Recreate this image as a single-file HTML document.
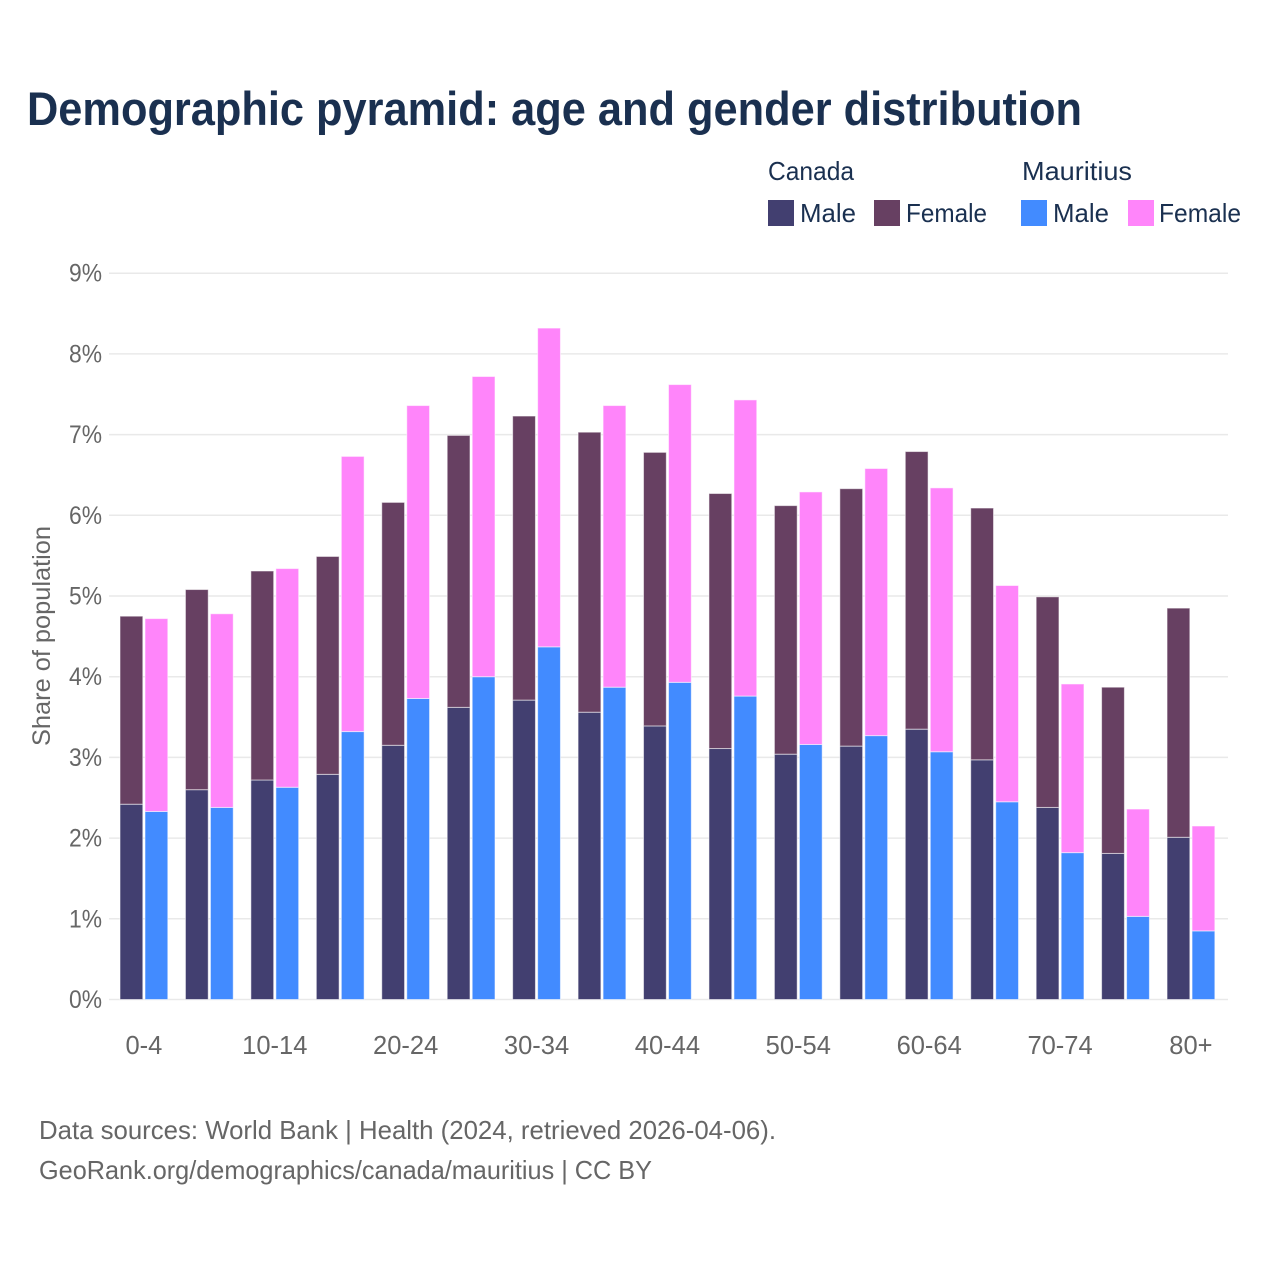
<!DOCTYPE html>
<html lang="en">
<head>
<meta charset="utf-8">
<title>Demographic pyramid: age and gender distribution</title>
<style>
html,body{margin:0;padding:0;background:#fff;}
svg{display:block;font-family:"Liberation Sans",sans-serif;}
</style>
</head>
<body>
<svg id="chart" xmlns="http://www.w3.org/2000/svg" width="1280" height="1280" viewBox="0 0 1280 1280">
  <rect x="0" y="0" width="1280" height="1280" fill="#ffffff"/>
  <text x="27" y="125" font-size="47" font-weight="700" fill="#1a3050" textLength="1055" lengthAdjust="spacingAndGlyphs">Demographic pyramid: age and gender distribution</text>

  <g font-size="26" fill="#1a3050">
    <text x="768" y="180" textLength="86" lengthAdjust="spacingAndGlyphs">Canada</text>
    <text x="1022" y="180" textLength="110" lengthAdjust="spacingAndGlyphs">Mauritius</text>
    <rect x="768" y="200" width="26" height="26" fill="#423f70"/>
    <text x="800" y="222" textLength="56" lengthAdjust="spacingAndGlyphs">Male</text>
    <rect x="874" y="200" width="26" height="26" fill="#674062"/>
    <text x="906" y="222" textLength="81" lengthAdjust="spacingAndGlyphs">Female</text>
    <rect x="1021" y="200" width="26" height="26" fill="#428bff"/>
    <text x="1053" y="222" textLength="56" lengthAdjust="spacingAndGlyphs">Male</text>
    <rect x="1128" y="200" width="26" height="26" fill="#ff85fa"/>
    <text x="1159" y="222" textLength="82" lengthAdjust="spacingAndGlyphs">Female</text>
  </g>

  <g id="grid"></g>
  <g id="bars"></g>
  <g id="y-ticks" font-size="25" fill="#666666" text-anchor="end"></g>
  <g id="x-ticks" font-size="25.5" fill="#666666" text-anchor="middle"></g>

  <text transform="translate(50,636) rotate(-90)" text-anchor="middle" font-size="25" fill="#666666" textLength="220" lengthAdjust="spacingAndGlyphs">Share of population</text>

  <text x="39" y="1139" font-size="26" fill="#666666" textLength="737" lengthAdjust="spacingAndGlyphs">Data sources: World Bank | Health (2024, retrieved 2026-04-06).</text>
  <text x="39" y="1179" font-size="26" fill="#666666" textLength="613" lengthAdjust="spacingAndGlyphs">GeoRank.org/demographics/canada/mauritius | CC BY</text>
</svg>
<script>
const ageGroups = ["0-4","5-9","10-14","15-19","20-24","25-29","30-34","35-39","40-44","45-49","50-54","55-59","60-64","65-69","70-74","75-79","80+"];
const ageLabels = ["0-4","","10-14","","20-24","","30-34","","40-44","","50-54","","60-64","","70-74","","80+"];
const canadaMale = [2.42,2.60,2.72,2.79,3.15,3.62,3.71,3.56,3.39,3.11,3.04,3.14,3.35,2.97,2.38,1.81,2.01];
const canadaFemale = [2.33,2.48,2.59,2.70,3.01,3.37,3.52,3.47,3.39,3.16,3.08,3.19,3.44,3.12,2.61,2.06,2.84];
const mauritiusMale = [2.33,2.38,2.63,3.32,3.73,4.00,4.37,3.87,3.93,3.76,3.16,3.27,3.07,2.45,1.82,1.03,0.85];
const mauritiusFemale = [2.39,2.40,2.71,3.41,3.63,3.72,3.95,3.49,3.69,3.67,3.13,3.31,3.27,2.68,2.09,1.33,1.30];
const yTicks = [0,1,2,3,4,5,6,7,8,9];

const NS = "http://www.w3.org/2000/svg";
const yScale = v => 999.5 - v * 80.7;
const xScale = i => 120 + i * 65.44;
const barW = 22.8;
const seriesGap = 25;

const gridG = document.getElementById("grid");
const yG = document.getElementById("y-ticks");
yTicks.forEach(t => {
  const line = document.createElementNS(NS, "line");
  
  
  line.setAttribute("x1", 109);
  line.setAttribute("x2", 1228);
  line.setAttribute("y1", yScale(t));
  line.setAttribute("y2", yScale(t));
  line.setAttribute("stroke", "#e9e9e9");
  line.setAttribute("stroke-width", "1.5");
  gridG.appendChild(line);
  const label = document.createElementNS(NS, "text");
  
  
  label.setAttribute("x", 102);
  label.setAttribute("y", yScale(t) + 8.5);
  label.setAttribute("textLength", 33);
  label.setAttribute("lengthAdjust", "spacingAndGlyphs");
  label.textContent = t + "%";
  yG.appendChild(label);
});

const barsG = document.getElementById("bars");
function addBar(name, x, from, value, fill) {
  const r = document.createElementNS(NS, "rect");
  
  
  r.setAttribute("x", x);
  r.setAttribute("y", yScale(from + value));
  r.setAttribute("width", barW);
  r.setAttribute("height", yScale(from) - yScale(from + value));
  r.setAttribute("fill", fill);
  r.setAttribute("stroke", "rgba(255,255,255,0.55)");
  r.setAttribute("stroke-width", "1");
  barsG.appendChild(r);
}
ageGroups.forEach((g, i) => {
  const x = xScale(i);
  addBar('bar-canada-male-' + g, x, 0, canadaMale[i], "#423f70");
  addBar('bar-canada-female-' + g, x, canadaMale[i], canadaFemale[i], "#674062");
  addBar('bar-mauritius-male-' + g, x + seriesGap, 0, mauritiusMale[i], "#428bff");
  addBar('bar-mauritius-female-' + g, x + seriesGap, mauritiusMale[i], mauritiusFemale[i], "#ff85fa");
});

const xG = document.getElementById("x-ticks");
ageLabels.forEach((lab, i) => {
  if (!lab) return;
  const t = document.createElementNS(NS, "text");
  
  
  t.setAttribute("x", xScale(i) + 23.9);
  t.setAttribute("y", 1054);
  t.textContent = lab;
  xG.appendChild(t);
});
</script>
</body>
</html>
